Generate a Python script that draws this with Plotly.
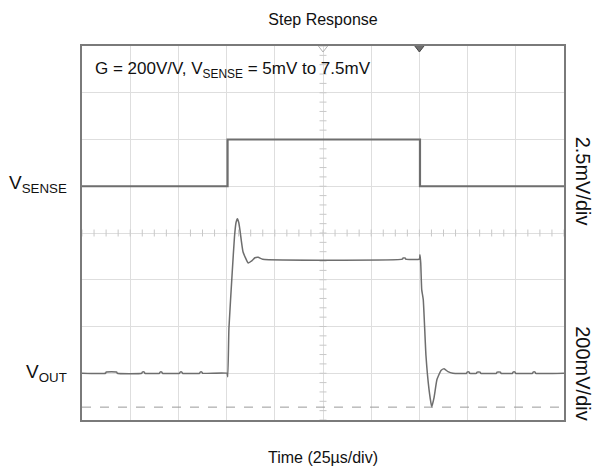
import numpy as np
import plotly.graph_objects as go

# ---- data (time in microseconds) ----
t_sense = [0, 75.5, 75.5, 175.3, 175.3, 250]
v_sense_mV = [5.0, 5.0, 7.5, 7.5, 5.0, 5.0]

t_out = [0, 12.2, 12.5, 18.0, 18.3, 31.0, 31.3, 32.3, 32.6, 40.2, 40.5, 41.4, 41.7,
         50.6, 50.9, 51.8, 52.1, 61.0, 61.3, 62.2, 62.5, 75.2, 75.6, 76.2, 77.9,
         79.1, 79.9, 80.6, 81.3, 81.9, 83.5, 86.2, 88.2, 89.7, 91.4, 93.7, 166.2, 166.5,
         167.6, 167.9, 175.0, 175.3, 175.7, 176.2, 177.0, 178.4, 180.0, 181.4, 182.6, 184.1,
         186.2, 187.8, 189.8, 192.4, 199.5, 199.8, 200.8, 201.1, 204.6, 204.9, 206.5,
         206.8, 215.0, 215.3, 217.0, 217.3, 223.3, 223.6, 224.6, 224.9, 233.7, 234.0,
         235.0, 235.3, 250]
v_out_V = [1.0, 1.0, 1.005, 1.005, 1.0, 1.0, 1.005, 1.005, 1.0, 1.0, 1.005, 1.005, 1.0,
           1.0, 1.005, 1.005, 1.0, 1.0, 1.005, 1.005, 1.0, 1.0, 0.985, 1.19, 1.43,
           1.585, 1.645, 1.661, 1.645, 1.614, 1.52, 1.472, 1.482, 1.494, 1.496, 1.488, 1.488,
           1.493, 1.493, 1.488, 1.488, 1.507, 1.47, 1.358, 1.315, 1.076, 0.93, 0.856, 0.896,
           0.973, 1.012, 1.019, 1.007, 1.0, 1.0, 1.005, 1.005, 1.0, 1.0, 1.005, 1.005,
           1.0, 1.0, 1.005, 1.005, 1.0, 1.0, 1.005, 1.005, 1.0, 1.0, 1.005,
           1.005, 1.0, 1.0]

cursor_V = 0.855            # dashed cursor level on VOUT channel
trigger_marks = [125, 175]  # top-edge markers (us)

# ---- scope settings ----
T_DIV = 25.0
SENSE_DIV = 2.5   # mV/div
OUT_DIV = 0.2     # V/div
N_XDIV, N_YDIV = 10, 8
sense_range = [-7.5, -7.5 + N_YDIV * SENSE_DIV]
out_range = [0.8, 0.8 + N_YDIV * OUT_DIV]
x_range = [0, N_XDIV * T_DIV]

FONT = "Arial, Liberation Sans, sans-serif"
TRACE = "#6e6e6e"
GRID = "#dedede"

fig = go.Figure()

# centre-line minor ticks
xc = (x_range[0] + x_range[1]) / 2
yc = (sense_range[0] + sense_range[1]) / 2
tx = np.arange(x_range[0], x_range[1] + 1e-9, T_DIV / 4)
ty = np.arange(sense_range[0], sense_range[1] + 1e-9, SENSE_DIV / 5)
fig.add_trace(go.Scatter(x=tx, y=[yc] * len(tx), mode="markers", yaxis="y",
                         marker=dict(symbol="line-ns", size=5, line=dict(color="#c8c8c8", width=1)),
                         hoverinfo="skip", showlegend=False))
fig.add_trace(go.Scatter(x=[xc] * len(ty), y=ty, mode="markers", yaxis="y",
                         marker=dict(symbol="line-ew", size=5, line=dict(color="#c8c8c8", width=1)),
                         hoverinfo="skip", showlegend=False))

fig.add_trace(go.Scatter(x=t_sense, y=v_sense_mV, mode="lines", yaxis="y",
                         line=dict(color=TRACE, width=2.2), showlegend=False, name="VSENSE"))
fig.add_trace(go.Scatter(x=t_out, y=v_out_V, mode="lines", yaxis="y2",
                         line=dict(color=TRACE, width=1.5, shape="spline", smoothing=0.4),
                         showlegend=False, name="VOUT"))

# trigger markers at top edge
fig.add_trace(go.Scatter(x=trigger_marks, y=[sense_range[1]] * 2, mode="markers", yaxis="y",
                         marker=dict(symbol=["triangle-down-open", "triangle-down"], size=12,
                                     color=["#b0b0b0", "#6e6e6e"], line=dict(width=1)),
                         showlegend=False, hoverinfo="skip"))

fig.add_shape(type="line", xref="paper", x0=0, x1=1, yref="y2", y0=cursor_V, y1=cursor_V,
              line=dict(color="#9a9a9a", width=1, dash="dash"))

fig.update_layout(
    width=595, height=476,
    margin=dict(l=82, r=31, t=46, b=56, autoexpand=False),
    paper_bgcolor="white", plot_bgcolor="white",
    font=dict(family=FONT, color="#111"),
    title=dict(text="Step Response", x=0.5, xref="paper", xanchor="center",
               y=1 - 19 / 476, yref="container", yanchor="middle",
               font=dict(size=16, family=FONT, color="#111")),
    xaxis=dict(range=x_range, dtick=T_DIV, tick0=0, showgrid=True, gridcolor=GRID, gridwidth=1,
               showticklabels=False, ticks="", zeroline=False, automargin=False,
               showline=True, mirror=True, linecolor="#7a7a7a", linewidth=1.5),
    yaxis=dict(range=sense_range, dtick=SENSE_DIV, tick0=sense_range[0], showgrid=True,
               gridcolor=GRID, gridwidth=1, showticklabels=False, ticks="", zeroline=False,
               automargin=False,
               showline=True, mirror=True, linecolor="#7a7a7a", linewidth=1.5),
    yaxis2=dict(range=out_range, overlaying="y", showgrid=False, showticklabels=False,
                ticks="", zeroline=False, showline=False, automargin=False),
    annotations=[
        dict(text="G = 200V/V, V<sub>SENSE</sub> = 5mV to 7.5mV", xref="paper", yref="paper",
             x=0, y=1, xanchor="left", yanchor="middle", xshift=11, yshift=-24,
             showarrow=False, font=dict(size=17, family=FONT, color="#111")),
        dict(text="V<sub>SENSE</sub>", xref="paper", yref="y", x=0, y=5.0, xanchor="right",
             yanchor="middle", xshift=-13, yshift=2, showarrow=False,
             font=dict(size=19, family=FONT, color="#111")),
        dict(text="V<sub>OUT</sub>", xref="paper", yref="y2", x=0, y=1.0, xanchor="right",
             yanchor="middle", xshift=-13, yshift=0, showarrow=False,
             font=dict(size=19, family=FONT, color="#111")),
        dict(text="2.5mV/div", xref="paper", yref="y", x=1, y=5.3, xanchor="center",
             yanchor="middle", xshift=19, textangle=90, showarrow=False,
             font=dict(size=20, family=FONT, color="#111")),
        dict(text="200mV/div", xref="paper", yref="y2", x=1, y=1.0, xanchor="center",
             yanchor="middle", xshift=19, textangle=90, showarrow=False,
             font=dict(size=20, family=FONT, color="#111")),
        dict(text="Time (25µs/div)", xref="paper", yref="paper", x=0.5, y=0, xanchor="center",
             yanchor="middle", yshift=-37, showarrow=False,
             font=dict(size=16, family=FONT, color="#111")),
    ],
)

fig.write_html("out.html", config={"displayModeBar": False},
               post_script="document.body.style.margin='0px';document.body.style.overflow='hidden';")
